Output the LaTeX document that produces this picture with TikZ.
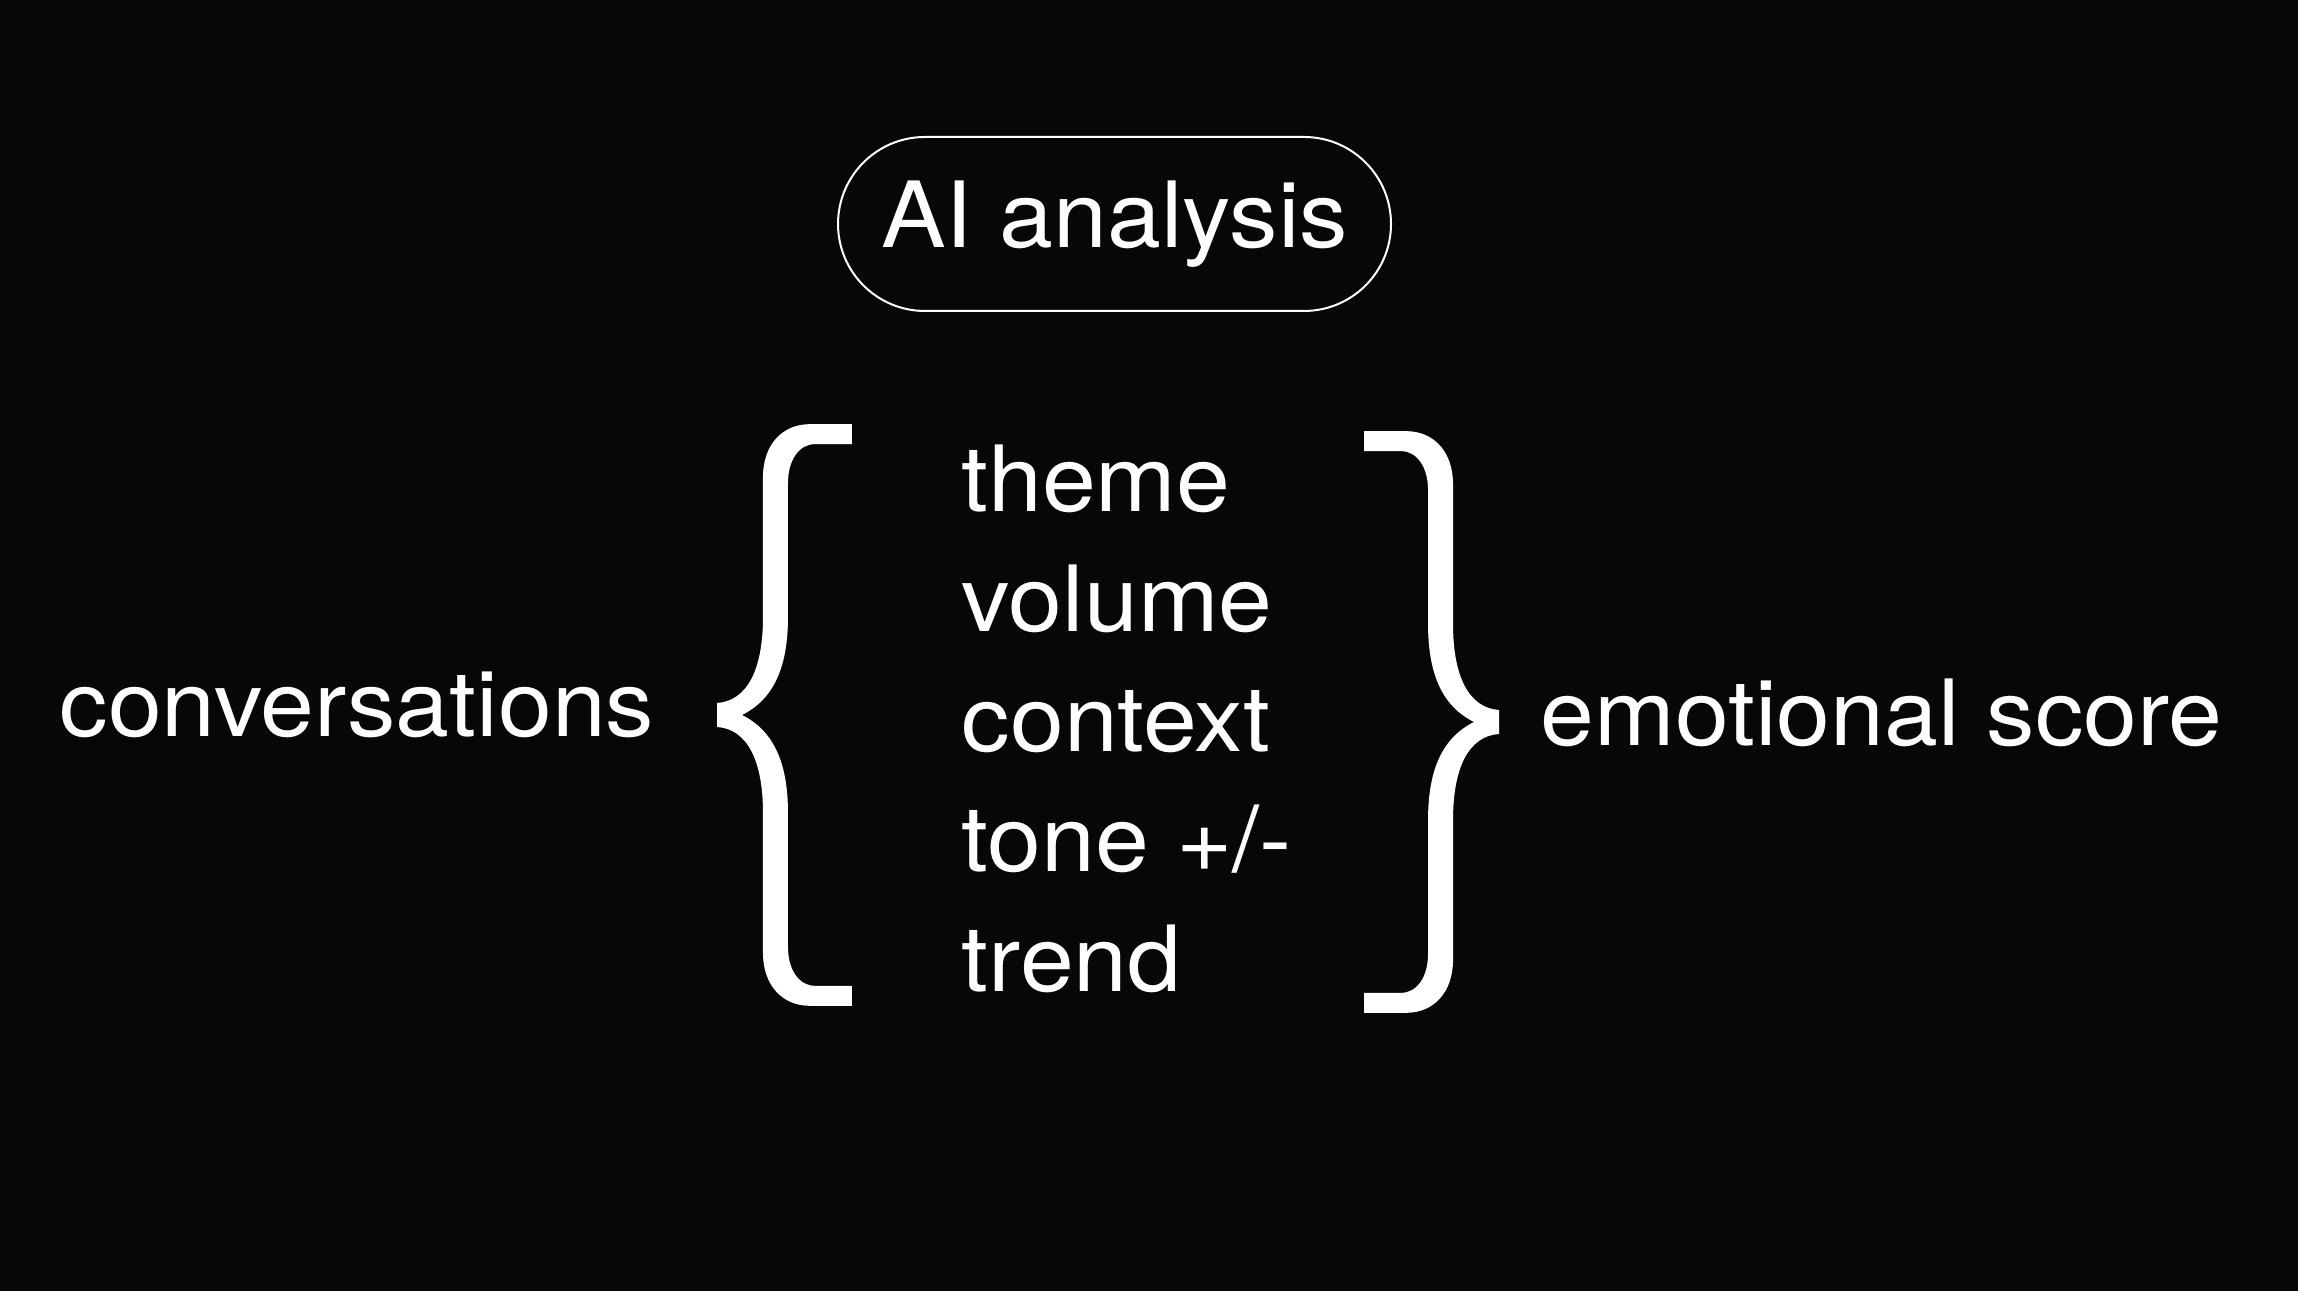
\documentclass[tikz,border=0pt]{standalone}
\usepackage{fontspec}
\setmainfont{TeX Gyre Heros}[FakeStretch=1.06]
\usepackage{tikz}
\usetikzlibrary{positioning}

\definecolor{slide}{RGB}{7,7,7}

\tikzset{
  word/.style={text=white,inner sep=0pt,anchor=base west,font=\fontsize{26}{31}\selectfont},
  pill/.style={draw=white,line width=0.57pt,rounded corners=0.87cm,minimum width=5.53cm,
    minimum height=1.74cm,inner sep=0pt,text=white,font=\fontsize{26}{31}\selectfont},
  % one curly brace, tip at the origin, opening to the right
  curlybrace/.pic={
    \fill[white,scale=0.01] (135,291) -- (93,291) .. controls (65,291) and (46,270) .. (46,238)
      -- (46,98) .. controls (46,45) and (30,14) .. (0,12) -- (0,-12)
      .. controls (30,-14) and (46,-45) .. (46,-98) -- (46,-238)
      .. controls (46,-270) and (65,-291) .. (93,-291) -- (135,-291) -- (135,-271) -- (98,-271)
      .. controls (82,-271) and (71,-255) .. (71,-232) -- (71,-98)
      .. controls (71,-45) and (55,-15) .. (25,0)
      .. controls (55,15) and (71,45) .. (71,98) -- (71,232)
      .. controls (71,255) and (82,271) .. (98,271) -- (135,271) -- cycle;
  }
}

\begin{document}
\begin{tikzpicture}
\fill[slide] (0,0) rectangle (22.98,12.91);
\useasboundingbox (0,0) rectangle (22.98,12.91);

% top box
\node[pill] (ai) at (11.145,10.67) {AI analysis};

% input and output
\node[word] (conv) at (0.59,5.54) {conversations};
\node[word] (score) at (15.40,5.45) {emotional score};

% braces
\pic at (7.17,5.76) {curlybrace};
\pic[xscale=-1] at (14.99,5.69) {curlybrace};

% what is looked at
\node[word] (theme) at (9.61,7.79) {theme};
\node[word] (volume) at (9.61,6.59) {volume};
\node[word] (context) at (9.61,5.39) {context};
\node[word] (tone) at (9.61,4.19) {tone +/-};
\node[word] (trend) at (9.61,2.99) {trend};
\end{tikzpicture}
\end{document}
